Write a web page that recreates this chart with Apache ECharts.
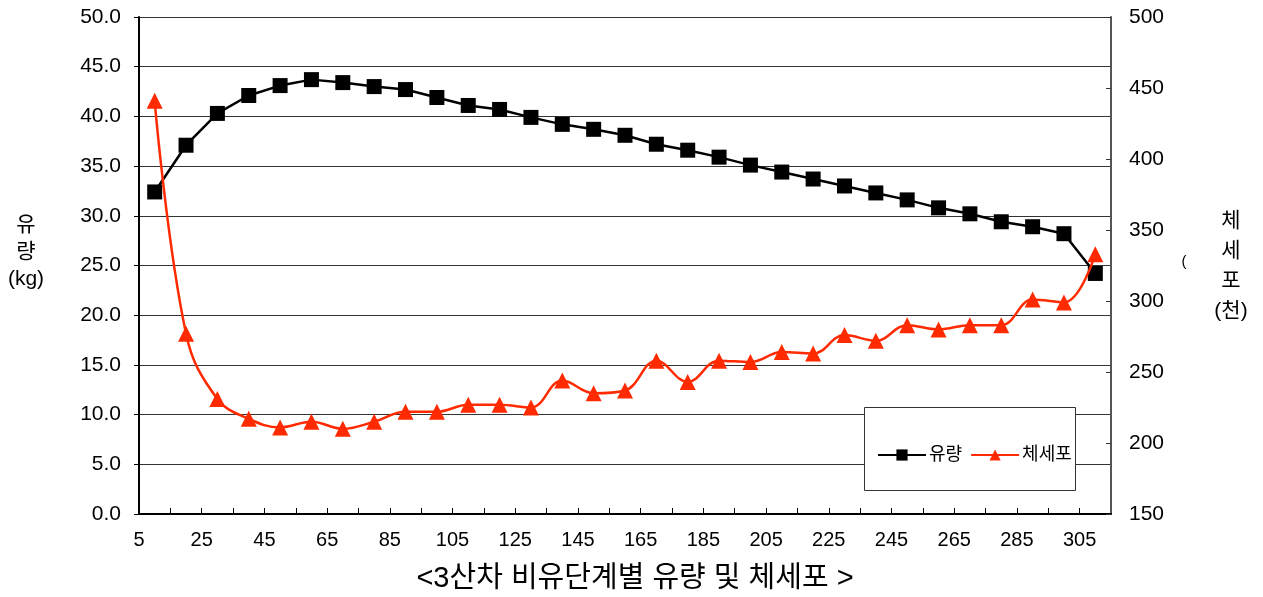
<!DOCTYPE html>
<html><head><meta charset="utf-8">
<script src="https://cdn.jsdelivr.net/npm/echarts@6/dist/echarts.min.js"></script>
<style>html,body{margin:0;padding:0;background:#fff}#c{width:1263px;height:597px}</style>
</head><body><div id="c"></div>
<script>
const categories = ['5','15','25','35','45','55','65','75','85','95','105','115','125','135','145','155','165','175','185','195','205','215','225','235','245','255','265','275','285','295','305'];
const milkYield = [32.4,37.1,40.3,42.1,43.1,43.7,43.4,43.0,42.7,41.9,41.1,40.7,39.9,39.2,38.7,38.1,37.2,36.6,35.9,35.1,34.4,33.7,33.0,32.3,31.6,30.8,30.2,29.4,28.9,28.2,24.2];
const somaticCells = [441,277,231,217,211,215,210,215,222,222,227,227,225,244,235,237,258,243,258,257,264,263,276,272,283,280,283,283,301,299,333];
const seriesNames = ['유량','체세포'];
const titleX = '<3산차 비유단계별 유량 및 체세포 >';
const titleLeft = '유\n량\n(kg)';
const titleRight = '체\n세\n포\n(천)';

const FONT = '"Liberation Sans", Arial, "Noto Sans CJK KR", sans-serif';
const chart = echarts.init(document.getElementById('c'));
const toPts = arr => arr.map((v, i) => [i + 0.5, v]);

chart.setOption({
  animation: false,
  textStyle: { fontFamily: FONT },
  grid: { left: 139, right: 152, top: 17, bottom: 83, containLabel: false },
  xAxis: {
    type: 'value', min: 0, max: categories.length, interval: 1,
    axisLine: { show: true, onZero: false, lineStyle: { color: '#000', width: 2 } },
    axisTick: { show: true, inside: true, length: 6, lineStyle: { color: '#000', width: 1 } },
    splitLine: { show: false },
    axisLabel: {
      color: '#000', fontSize: 20, margin: 16, fontFamily: FONT,
      showMaxLabel: false,
      formatter: v => (Math.round(v) % 2 === 0 && v < categories.length) ? categories[Math.round(v)] : ''
    }
  },
  yAxis: [{
    type: 'value', min: 0, max: 50, interval: 5,
    axisLine: { show: true, lineStyle: { color: '#000', width: 2 } },
    axisTick: { show: true, inside: false, length: 5, lineStyle: { color: '#000' } },
    splitLine: { show: true, lineStyle: { color: '#333', width: 1.2 } },
    axisLabel: { color: '#000', fontSize: 21, margin: 18, fontFamily: FONT, formatter: v => v.toFixed(1) }
  }, {
    type: 'value', min: 150, max: 500, interval: 50, position: 'right',
    axisLine: { show: true, lineStyle: { color: '#555', width: 2 } },
    axisTick: { show: true, inside: true, length: 5, lineStyle: { color: '#333' } },
    splitLine: { show: false },
    axisLabel: { color: '#000', fontSize: 21, margin: 18, fontFamily: FONT }
  }],
  legend: {
    left: 872, top: 441, itemWidth: 48, itemHeight: 14, itemGap: 8,
    textStyle: { fontSize: 18, color: '#000', fontFamily: FONT, padding: [0,0,0,-2] },
    data: seriesNames, z: 20
  },
  graphic: [
    { type: 'rect', shape: { x: 864.5, y: 407.5, width: 211, height: 83 },
      style: { fill: '#fff', stroke: '#333', lineWidth: 1 }, z: 10 },
    { type: 'text', x: 26, y: 252, style: { text: titleLeft, fontSize: 21, fill: '#000', fontFamily: FONT, align: 'center', verticalAlign: 'middle', lineHeight: 27 } },
    { type: 'text', x: 1231, y: 266, style: { text: titleRight, fontSize: 21, fill: '#000', fontFamily: FONT, align: 'center', verticalAlign: 'middle', lineHeight: 30 } },
    { type: 'text', x: 1184, y: 262, style: { text: '(', fontSize: 15, fill: '#000', fontFamily: FONT, align: 'center', verticalAlign: 'middle' } },
    { type: 'text', x: 635, y: 579, style: { text: titleX, fontSize: 29, fill: '#000', fontFamily: FONT, align: 'center', verticalAlign: 'middle' } }
  ],
  series: [{
    name: seriesNames[0], type: 'line', yAxisIndex: 0, data: toPts(milkYield),
    symbol: 'rect', symbolSize: 15,
    lineStyle: { color: '#000', width: 2.5 }, itemStyle: { color: '#000' }, z: 3
  }, {
    name: seriesNames[1], type: 'line', yAxisIndex: 1, data: toPts(somaticCells),
    symbol: 'triangle', symbolSize: 16, smooth: 0.4,
    lineStyle: { color: '#ff2a00', width: 2.5 }, itemStyle: { color: '#ff2a00' }, z: 4
  }]
});
</script>
</body></html>
